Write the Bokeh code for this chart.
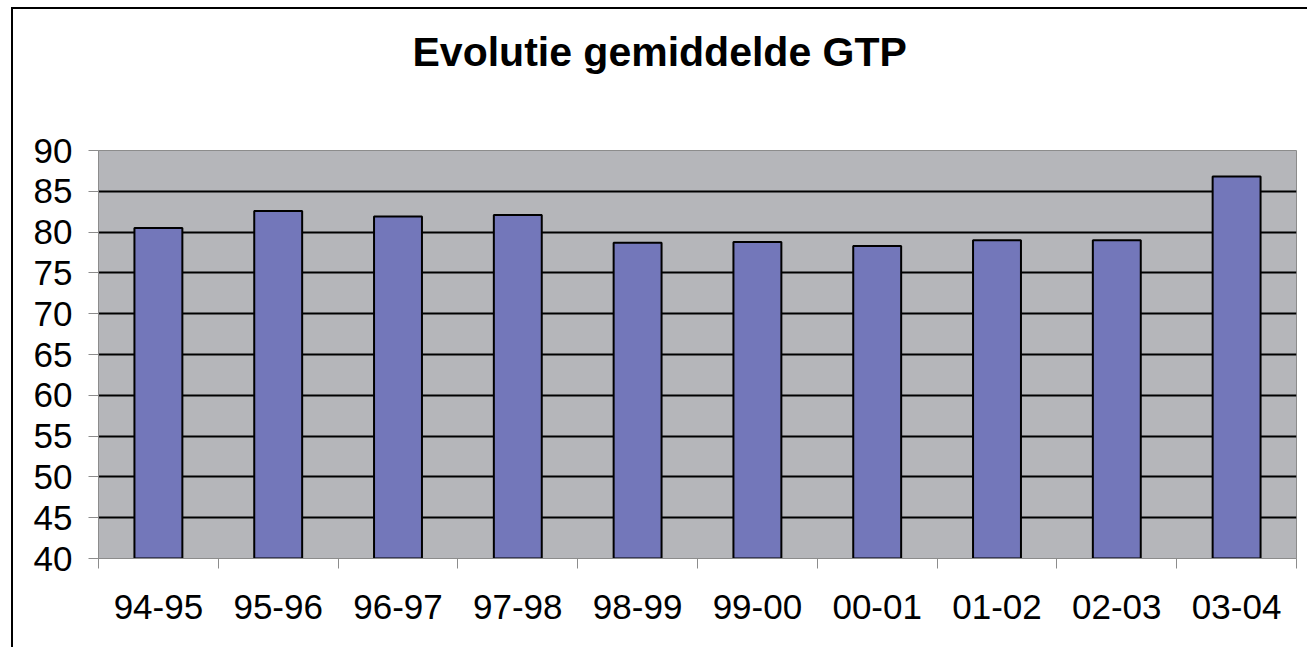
from bokeh.plotting import figure
from bokeh.models import Range1d, FixedTicker, ColumnDataSource, Title
from bokeh.embed import file_html
from bokeh.resources import INLINE

categories = ["94-95", "95-96", "96-97", "97-98", "98-99", "99-00", "00-01", "01-02", "02-03", "03-04"]
values = [80.5, 82.6, 81.9, 82.1, 78.7, 78.8, 78.3, 79.0, 79.0, 86.8]
y_ticks = [40, 45, 50, 55, 60, 65, 70, 75, 80, 85, 90]
title_text = "Evolutie gemiddelde GTP"

n = len(categories)
xpos = [i + 0.5 for i in range(n)]
src = ColumnDataSource(dict(x=xpos, top=values, cat=categories))

p = figure(width=1296, height=640, x_range=Range1d(0, n), y_range=Range1d(40, 90),
           output_backend="svg", toolbar_location=None,
           min_border_left=85, min_border_right=13, min_border_top=141, min_border_bottom=91)
p.styles = {"border-top": "2px solid black", "border-left": "2px solid black",
            "margin-left": "11px", "margin-top": "7px"}

# spacer panel between title and plot area
p.add_layout(Title(text=" ", text_font_size="1px", standoff=68), "above")

p.title.text = title_text
p.title.align = "left"
p.title.offset = 314
p.title.standoff = 10
p.title.text_font = "Liberation Sans"
p.title.text_font_size = "41px"
p.title.text_font_style = "bold"
p.title.text_color = "black"

p.background_fill_color = "#B5B6BA"
p.border_fill_color = "white"
p.outline_line_color = "#8C8C8C"
p.outline_line_width = 1

p.vbar(x="x", top="top", bottom=40, width=0.4, source=src,
       fill_color="#7377BA", line_color="black", line_width=2)

# grid
p.xgrid.grid_line_color = None
p.ygrid.ticker = FixedTicker(ticks=y_ticks[1:])
p.ygrid.grid_line_color = "black"
p.ygrid.grid_line_width = 2

# y axis
p.yaxis.ticker = FixedTicker(ticks=y_ticks)
p.yaxis.axis_line_color = "#8C8C8C"
p.yaxis.major_tick_line_color = "#8C8C8C"
p.yaxis.major_tick_out = 10
p.yaxis.major_tick_in = 0
p.yaxis.minor_tick_line_color = None
p.yaxis.major_label_text_font = "Liberation Sans"
p.yaxis.major_label_text_font_size = "35px"
p.yaxis.major_label_text_color = "black"
p.yaxis.major_label_standoff = 16

# x axis
p.xaxis.ticker = FixedTicker(ticks=xpos, minor_ticks=list(range(n + 1)))
p.xaxis.major_label_overrides = {x: c for x, c in zip(xpos, categories)}
p.xaxis.axis_line_color = "#8C8C8C"
p.xaxis.major_tick_line_color = None
p.xaxis.major_tick_out = 10
p.xaxis.major_tick_in = 0
p.xaxis.minor_tick_line_color = "#8C8C8C"
p.xaxis.minor_tick_out = 10
p.xaxis.minor_tick_in = 0
p.xaxis.major_label_text_font = "Liberation Sans"
p.xaxis.major_label_text_font_size = "35px"
p.xaxis.major_label_text_color = "black"
p.xaxis.major_label_standoff = 26

open("out.html", "w").write(file_html(p, INLINE))
